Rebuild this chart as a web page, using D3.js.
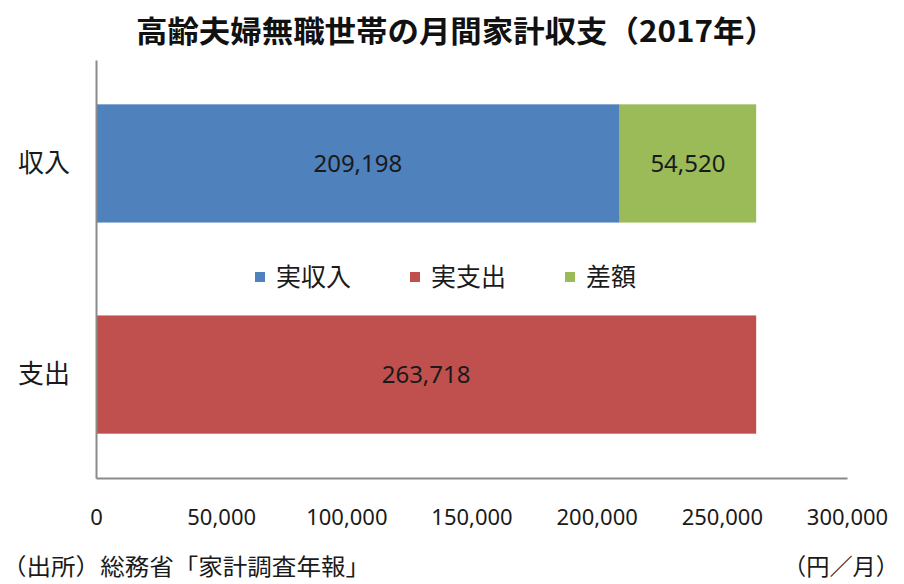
<!DOCTYPE html>
<html><head><meta charset="utf-8">
<script src="https://cdn.jsdelivr.net/npm/d3@7"></script>
<style>
html,body{margin:0;padding:0;background:#fff;}
svg{display:block;}
</style>
</head><body>
<svg id="chart" width="904" height="584"></svg>
<script>
const title = "高齢夫婦無職世帯の月間家計収支（2017年）";
const categories = ["収入", "支出"];
const seriesNames = ["実収入", "実支出", "差額"];
const realIncome = [209198, 0];
const realExpense = [0, 263718];
const difference = [54520, 0];
const xTicks = [0, 50000, 100000, 150000, 200000, 250000, 300000];
const colors = ["#4F81BD", "#C0504D", "#9BBB59"];
const sourceText = "（出所）総務省「家計調査年報」";
const unitText = "（円／月）";

(function () {
const svg = d3.select("#chart");
const mLeft = 96, mRight = 847, mTop = 60, mBottom = 478;
const font = "'Noto Sans CJK JP', 'Noto Sans', sans-serif";

const x = d3.scaleLinear().domain([0, 300000]).range([mLeft, mRight]);
const y = d3.scaleBand().domain(categories).range([mTop, mBottom]).paddingInner(0.44).paddingOuter(0.21);

const rows = categories.map((c, i) => ({cat: c, "実収入": realIncome[i], "実支出": realExpense[i], "差額": difference[i]}));
const stacked = d3.stack().keys(seriesNames)(rows);

// bars
svg.append("g").selectAll("g").data(stacked).join("g")
  .attr("fill", (d, i) => colors[i])
  .selectAll("rect").data(d => d.filter(v => v[1] - v[0] > 0)).join("rect")
  .attr("x", d => x(d[0]))
  .attr("y", d => y(d.data.cat))
  .attr("width", d => x(d[1]) - x(d[0]))
  .attr("height", y.bandwidth());

// value labels
svg.append("g").selectAll("g").data(stacked).join("g")
  .selectAll("text").data(d => d.filter(v => v[1] - v[0] > 0)).join("text")
  .attr("x", d => (x(d[0]) + x(d[1])) / 2)
  .attr("y", d => y(d.data.cat) + y.bandwidth() / 2)
  .attr("dy", "0.36em")
  .attr("text-anchor", "middle")
  .attr("font-family", "'Noto Sans', sans-serif")
  .attr("font-size", 24)
  .attr("fill", "#1a1a1a")
  .text(d => d3.format(",")(d[1] - d[0]));

// x axis
const xAxis = svg.append("g").attr("transform", `translate(0,${mBottom})`)
  .call(d3.axisBottom(x).tickValues(xTicks).tickSize(0).tickPadding(31).tickFormat(d3.format(",")));
xAxis.select(".domain").attr("stroke", "#8a8a8a").attr("stroke-width", 2);
xAxis.selectAll("text").attr("font-family", "'Noto Sans', sans-serif").attr("font-size", 22).attr("fill", "#1a1a1a");

// y axis
const yAxis = svg.append("g").attr("transform", `translate(${mLeft},0)`)
  .call(d3.axisLeft(y).tickSize(0).tickPadding(26));
yAxis.select(".domain").attr("stroke", "#8a8a8a").attr("stroke-width", 2);
yAxis.selectAll("text").attr("font-family", font).attr("font-size", 26).attr("fill", "#1a1a1a");

// legend
const legendX = [255, 410, 565];
const legend = svg.append("g").selectAll("g").data(seriesNames).join("g")
  .attr("transform", (d, i) => `translate(${legendX[i]},277)`);
legend.append("rect").attr("x", 0).attr("y", -5).attr("width", 10).attr("height", 10)
  .attr("fill", (d, i) => colors[i]);
legend.append("text").attr("x", 21).attr("dy", "0.36em")
  .attr("font-family", font).attr("font-size", 25).attr("fill", "#1a1a1a")
  .text(d => d);

// title
svg.append("text").attr("x", 136).attr("y", 42)
  .attr("font-family", font).attr("font-weight", "bold").attr("font-size", 30)
  .attr("textLength", 640).attr("lengthAdjust", "spacingAndGlyphs")
  .attr("fill", "#111").text(title);

// footer
svg.append("text").attr("x", 2).attr("y", 575)
  .attr("font-family", font).attr("font-size", 23)
  .attr("textLength", 368).attr("lengthAdjust", "spacingAndGlyphs")
  .attr("fill", "#1a1a1a").text(sourceText);
svg.append("text").attr("x", 783).attr("y", 575)
  .attr("font-family", font).attr("font-size", 23)
  .attr("textLength", 116).attr("lengthAdjust", "spacingAndGlyphs")
  .attr("fill", "#1a1a1a").text(unitText);
})();
</script>
</body></html>
